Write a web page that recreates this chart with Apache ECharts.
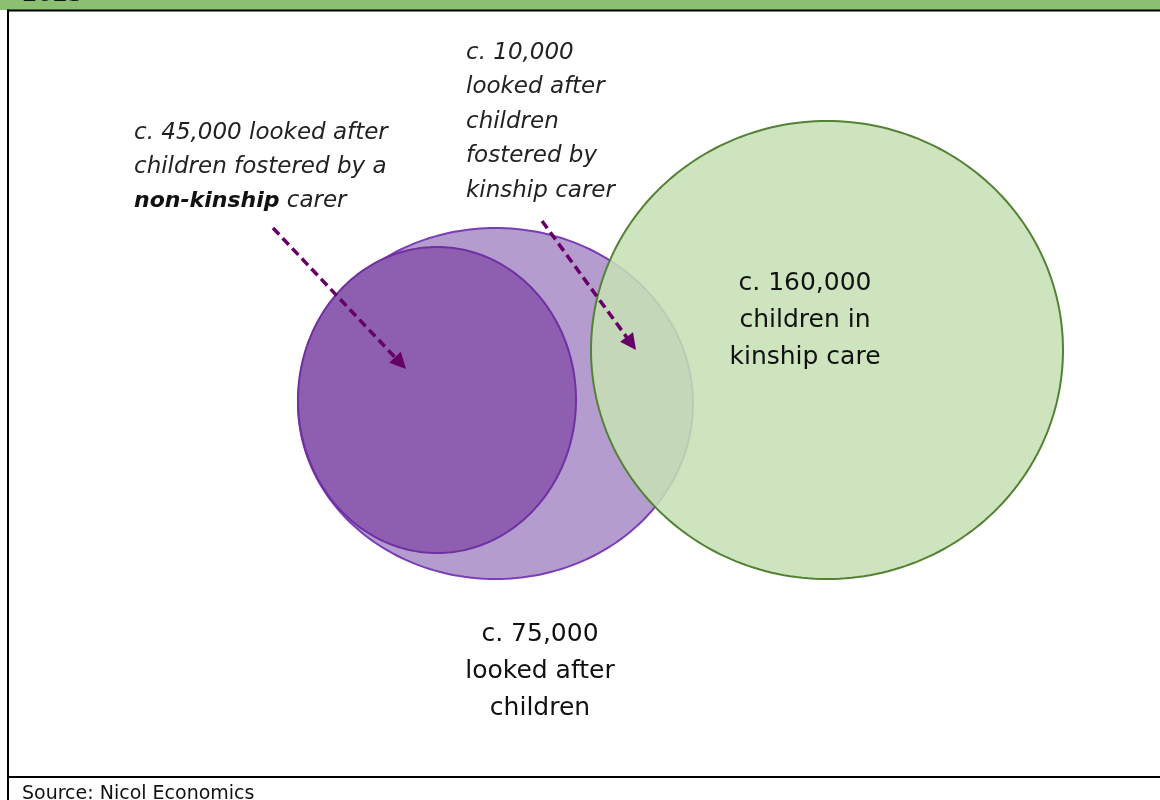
<!DOCTYPE html>
<html><head><meta charset="utf-8">
<script src="https://cdn.jsdelivr.net/npm/echarts@6.0.0/dist/echarts.min.js"></script>
<style>html,body{margin:0;padding:0;background:#fff}#c{width:1160px;height:800px}</style>
</head><body><div id="c"></div>
<script>
// ---- Venn sets (drawing units on hidden 0-1160 / 0-800 axes) ----
const setNames  = ['c. 75,000 looked after children', 'c. 45,000 fostered by non-kinship carer', 'c. 160,000 children in kinship care'];
const setValues = [75000, 45000, 160000];
const centerX   = [495.5, 437, 827];
const centerY   = [403.5, 400, 350];
const radiusX   = [197.5, 139, 236];
const radiusY   = [175.5, 153, 229];

// ---- Annotation arrows (start -> tip) ----
const arrowFromX = [273, 542];
const arrowFromY = [228, 221];
const arrowToX   = [406, 636];
const arrowToY   = [369, 350];

// ---- Texts ----
const titleTail   = '2023';
const note45k     = 'c. 45,000 looked after\nchildren fostered by a\n{b|non-kinship} carer';
const note10k     = 'c. 10,000\nlooked after\nchildren\nfostered by\nkinship carer';
const label160k   = 'c. 160,000\nchildren in\nkinship care';
const label75k    = 'c. 75,000\nlooked after\nchildren';
const sourceText  = 'Source: Nicol Economics';

const setFill   = ['#b59ccf', '#8e5fb1', 'rgba(197,224,180,0.87)'];
const setStroke = ['#7a3db8', '#7030a0', '#548235'];

const vennData = setNames.map((n, i) => ({ name: n, value: [centerX[i], centerY[i], radiusX[i], radiusY[i], setValues[i]] }));
const arrowData = arrowFromX.map((x, i) => [x, arrowFromY[i], arrowToX[i], arrowToY[i]]);

const chart = echarts.init(document.getElementById('c'), null, { renderer: 'canvas' });
const FONT = '"DejaVu Sans", "Open Sans", sans-serif';

chart.setOption({
  animation: false,
  backgroundColor: '#ffffff',
  grid: { left: 0, right: 0, top: 0, bottom: 0 },
  xAxis: { type: 'value', min: 0, max: 1160, show: false },
  yAxis: { type: 'value', min: 0, max: 800, inverse: true, show: false },
  series: [
    {
      type: 'custom',
      coordinateSystem: 'cartesian2d',
      data: vennData,
      z: 2,
      renderItem: function (params, api) {
        const i = params.dataIndex;
        const c = api.coord([api.value(0), api.value(1)]);
        const s = api.size([api.value(2), api.value(3)]);
        const pts = [];
        for (let k = 0; k < 240; k++) {
          const t = k / 240 * Math.PI * 2;
          pts.push([c[0] + s[0] * Math.cos(t), c[1] + s[1] * Math.sin(t)]);
        }
        return {
          type: 'polygon',
          shape: { points: pts },
          style: { fill: setFill[i], stroke: setStroke[i], lineWidth: 2 }
        };
      }
    },
    {
      type: 'custom',
      coordinateSystem: 'cartesian2d',
      data: arrowData,
      z: 5,
      renderItem: function (params, api) {
        const a = api.coord([api.value(0), api.value(1)]);
        const b = api.coord([api.value(2), api.value(3)]);
        const dx = b[0] - a[0], dy = b[1] - a[1];
        const L = Math.sqrt(dx * dx + dy * dy);
        const ux = dx / L, uy = dy / L;
        const headLen = 16, headHalf = 8;
        const bx = b[0] - ux * headLen, by = b[1] - uy * headLen;
        return {
          type: 'group',
          children: [
            { type: 'line', shape: { x1: a[0], y1: a[1], x2: bx + ux * 2, y2: by + uy * 2 },
              style: { stroke: '#660066', lineWidth: 3.5, lineDash: [9, 5] } },
            { type: 'polygon', shape: { points: [[b[0], b[1]], [bx - uy * headHalf, by + ux * headHalf], [bx + uy * headHalf, by - ux * headHalf]] },
              style: { fill: '#660066' } }
          ]
        };
      }
    }
  ],
  graphic: [
    { type: 'rect', shape: { x: 0, y: 0, width: 1160, height: 10 }, style: { fill: '#8bbf72' }, z: 1 },
    { type: 'text', x: 22, y: 6, style: { text: titleTail, font: 'bold 22px ' + FONT, fill: '#111', textVerticalAlign: 'bottom' }, z: 2 },
    { type: 'rect', shape: { x: 7, y: 9.5, width: 1153, height: 2 }, style: { fill: '#000' }, z: 3 },
    { type: 'rect', shape: { x: 7, y: 9.5, width: 2, height: 791 }, style: { fill: '#000' }, z: 3 },
    { type: 'rect', shape: { x: 7, y: 776, width: 1153, height: 2 }, style: { fill: '#000' }, z: 3 },
    { type: 'text', x: 134, y: 167, z: 10,
      style: { text: note45k, fill: '#222', font: 'italic 23px ' + FONT, lineHeight: 34, textVerticalAlign: 'middle',
               rich: { b: { fontStyle: 'italic', fontWeight: 'bold', fontSize: 22, fontFamily: FONT, fill: '#111', lineHeight: 34 } } } },
    { type: 'text', x: 466, y: 122, z: 10,
      style: { text: note10k, fill: '#222', font: 'italic 23px ' + FONT, lineHeight: 34.5, textVerticalAlign: 'middle' } },
    { type: 'text', x: 805, y: 320, z: 10,
      style: { text: label160k, fill: '#111', font: '25px ' + FONT, lineHeight: 37, textAlign: 'center', textVerticalAlign: 'middle' } },
    { type: 'text', x: 540, y: 671, z: 10,
      style: { text: label75k, fill: '#111', font: '25px ' + FONT, lineHeight: 37, textAlign: 'center', textVerticalAlign: 'middle' } },
    { type: 'text', x: 22, y: 794, z: 10,
      style: { text: sourceText, fill: '#111', font: '19px ' + FONT, textVerticalAlign: 'middle' } }
  ]
});
</script>
</body></html>
